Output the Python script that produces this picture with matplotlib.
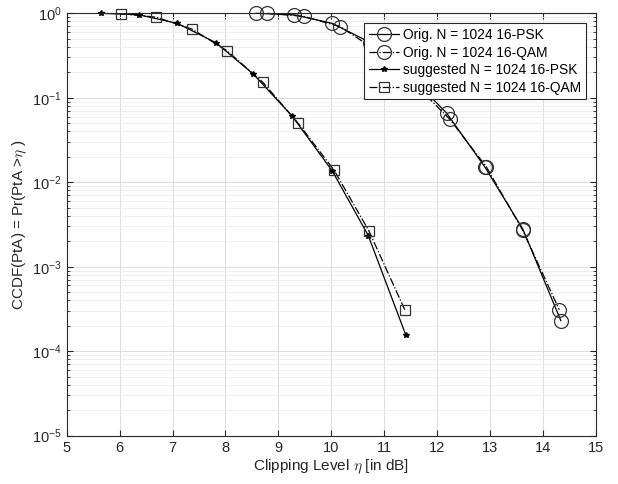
import matplotlib.pyplot as plt
from matplotlib.ticker import LogLocator, NullFormatter

plt.rcParams['font.family'] = ['Liberation Sans', 'DejaVu Sans']
plt.rcParams['mathtext.fontset'] = 'cm'

# clipping levels (dB) and CCDF values for each curve
orig_psk_x = [8.58, 9.30, 10.02, 10.74, 11.46, 12.18, 12.90, 13.62, 14.34]
orig_psk_y = [1.0, 0.96, 0.76, 0.45, 0.19, 0.066, 0.0153, 0.0028, 2.3e-4]

orig_qam_x = [8.79, 9.48, 10.17, 10.86, 11.55, 12.24, 12.93, 13.62, 14.31]
orig_qam_y = [1.0, 0.92, 0.695, 0.36, 0.152, 0.0557, 0.0153, 0.0027, 3.1e-4]

sugg_psk_x = [5.65, 6.37, 7.09, 7.82, 8.53, 9.26, 10.02, 10.70, 11.41]
sugg_psk_y = [1.0, 0.96, 0.76, 0.449, 0.19, 0.0608, 0.0136, 0.00234, 1.55e-4]

sugg_qam_x = [6.02, 6.69, 7.37, 8.03, 8.71, 9.37, 10.05, 10.71, 11.39]
sugg_qam_y = [0.99, 0.90, 0.65, 0.36, 0.152, 0.0503, 0.014, 0.00267, 3.1e-4]

labels = ['Orig. N = 1024 16-PSK', 'Orig. N = 1024 16-QAM',
          'suggested N = 1024 16-PSK', 'suggested N = 1024 16-QAM']

fig = plt.figure(figsize=(6.18, 4.84), dpi=100)
ax = fig.add_axes([0.108, 0.0998, 0.856, 0.8727])

lw = 0.9
ax.semilogy(orig_psk_x, orig_psk_y, '-', color='black', lw=lw, marker='o',
            ms=10, mfc='none', mec='#333333', mew=0.9, label=labels[0],
            clip_on=False)
ax.semilogy(orig_qam_x, orig_qam_y, '-.', color='black', lw=lw, marker='o',
            ms=10, mfc='none', mec='#333333', mew=0.9, label=labels[1],
            clip_on=False)
ax.semilogy(sugg_psk_x, sugg_psk_y, '-', color='black', lw=lw, marker='*',
            ms=4, mfc='black', mec='black', label=labels[2], clip_on=False)
ax.semilogy(sugg_qam_x, sugg_qam_y, '-.', color='black', lw=lw, marker='s',
            ms=7, mfc='none', mec='#333333', mew=0.9, label=labels[3],
            clip_on=False)

ax.set_xlim(5, 15)
ax.set_ylim(1e-5, 1)
ax.set_xticks(range(5, 16))
ax.yaxis.set_major_locator(LogLocator(base=10, numticks=10))
ax.yaxis.set_minor_locator(LogLocator(base=10, subs=range(2, 10), numticks=50))
ax.yaxis.set_minor_formatter(NullFormatter())

ax.grid(True, which='major', color='#dcdcdc', lw=0.7)
ax.grid(True, which='minor', axis='y', color='#ececec', lw=0.6)
ax.set_axisbelow(True)

ax.tick_params(which='both', direction='in', top=True, right=True,
               colors='#262626', labelsize=10.5)
ax.tick_params(which='major', length=4)
ax.tick_params(which='minor', length=2)
for s in ax.spines.values():
    s.set_color('#262626')
    s.set_linewidth(0.8)

ax.set_xlabel(r'Clipping Level $\eta$ [in dB]', fontsize=11, color='#262626',
              labelpad=2)
ax.set_ylabel(r'CCDF(PtA) = Pr(PtA >$\eta$ )', fontsize=11, color='#262626',
              labelpad=2)

leg = ax.legend(loc='upper right', bbox_to_anchor=(0.982, 0.976), fontsize=9.9,
                fancybox=False, edgecolor='#262626', framealpha=1,
                handlelength=2.2, handletextpad=0.3, borderpad=0.35,
                labelspacing=0.25, borderaxespad=0)
leg.get_frame().set_linewidth(0.8)
leg.set_zorder(5)

fig.savefig('out.png', dpi=100)
